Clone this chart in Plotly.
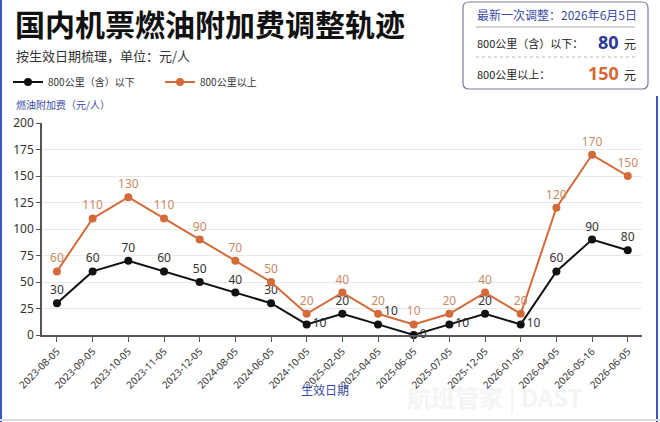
import plotly.graph_objects as go

# 数据
dates = ["2023-08-05", "2023-09-05", "2023-10-05", "2023-11-05", "2023-12-05",
         "2024-08-05", "2024-06-05", "2024-10-05", "2025-02-05", "2025-04-05",
         "2025-06-05", "2025-07-05", "2025-12-05", "2026-01-05", "2026-04-05",
         "2026-05-16", "2026-06-05"]
below_800 = [30, 60, 70, 60, 50, 40, 30, 10, 20, 10, 0, 10, 20, 10, 60, 90, 80]
above_800 = [60, 110, 130, 110, 90, 70, 50, 20, 40, 20, 10, 20, 40, 20, 120, 170, 150]

BLACK = "#111111"
ORANGE = "#d4693a"
BLUE = "#3b4aa8"
FONT = "Noto Sans CJK SC"

W, H = 660, 422
L, R, T, B = 42, 18, 123, 87
PW, PH = W - L - R, H - T - B


def px(x):
    return (x - L) / PW


def py(y):
    return (H - B - y) / PH


# 标签位置：低位的 10 放右侧，避免与橙线重叠
below_pos = []
for i, v in enumerate(below_800):
    if i in (7, 10, 11, 13):
        below_pos.append("middle right")
    elif i == 9:
        below_pos.append("top right")
    else:
        below_pos.append("top center")

fig = go.Figure()
fig.add_trace(go.Scatter(
    x=dates, y=below_800, name="800公里（含）以下", mode="lines+markers+text",
    line=dict(color=BLACK, width=2), marker=dict(color=BLACK, size=8),
    text=[str(v) for v in below_800], textposition=below_pos,
    textfont=dict(color="#333333", size=12, family="Noto Sans"), cliponaxis=False,
))
fig.add_trace(go.Scatter(
    x=dates, y=above_800, name="800公里以上", mode="lines+markers+text",
    line=dict(color=ORANGE, width=2), marker=dict(color=ORANGE, size=8),
    text=[str(v) for v in above_800], textposition="top center",
    textfont=dict(color="#c98a66", size=12, family="Noto Sans"), cliponaxis=False,
))

shapes = []
# 卡片边框
shapes.append(dict(type="line", xref="paper", yref="paper", x0=px(1), x1=px(1),
                   y0=py(0), y1=py(H), line=dict(color="#3d55c8", width=2)))
shapes.append(dict(type="line", xref="paper", yref="paper", x0=px(657), x1=px(657),
                   y0=py(96), y1=py(H), line=dict(color="#3d55c8", width=2)))
shapes.append(dict(type="line", xref="paper", yref="paper", x0=px(0), x1=px(W),
                   y0=py(420), y1=py(420), line=dict(color="#dddddd", width=2)))

# 信息框（圆角）
x0, x1, y0, y1, r = 463, 648, 2, 89, 6
path = (f"M {px(x0 + r)},{py(y0)} L {px(x1 - r)},{py(y0)} "
        f"Q {px(x1)},{py(y0)} {px(x1)},{py(y0 + r)} L {px(x1)},{py(y1 - r)} "
        f"Q {px(x1)},{py(y1)} {px(x1 - r)},{py(y1)} L {px(x0 + r)},{py(y1)} "
        f"Q {px(x0)},{py(y1)} {px(x0)},{py(y1 - r)} L {px(x0)},{py(y0 + r)} "
        f"Q {px(x0)},{py(y0)} {px(x0 + r)},{py(y0)} Z")
shapes.append(dict(type="path", xref="paper", yref="paper", path=path,
                   line=dict(color="#7a7f99", width=1.2), fillcolor="white"))
shapes.append(dict(type="line", xref="paper", yref="paper", x0=px(476), x1=px(635),
                   y0=py(27), y1=py(27), line=dict(color="#aaaaaa", width=1)))
shapes.append(dict(type="line", xref="paper", yref="paper", x0=px(476), x1=px(635),
                   y0=py(57), y1=py(57), line=dict(color="#bbbbbb", width=1, dash="dot")))


def note(x, y, text, size, color, xanchor="left", bold=False, family=FONT):
    if bold:
        text = f"<b>{text}</b>"
    return dict(xref="paper", yref="paper", x=px(x), y=py(y), text=text,
                showarrow=False, xanchor=xanchor, yanchor="middle",
                font=dict(size=size, color=color, family=family))


annotations = [
    note(13, 23, "国内机票燃油附加费调整轨迹", 30, "#111111", bold=True),
    note(14, 55, "按生效日期梳理，单位：元/人", 13, "#333333"),
    note(14, 105, "燃油附加费（元/人）", 10, BLUE),
    note(325, 389, "生效日期", 12, BLUE, xanchor="center"),
    note(475, 14, "最新一次调整：2026年6月5日", 12, BLUE),
    note(475, 43, "800公里（含）以下：", 11, "#222222"),
    note(621, 42, "80", 18, "#2b3a9a", xanchor="right", bold=True, family="Noto Sans"),
    note(630, 43, "元", 12, "#222222", xanchor="center"),
    note(475, 74, "800公里以上：", 11, "#222222"),
    note(621, 73, "150", 18, ORANGE, xanchor="right", bold=True, family="Noto Sans"),
    note(630, 74, "元", 12, "#222222", xanchor="center"),
    note(495, 396, "航班管家 | DAST", 24, "rgba(200,205,215,0.22)", xanchor="center", bold=True),
]

fig.update_layout(
    width=W, height=H,
    margin=dict(l=L, r=R, t=T, b=B, autoexpand=False),
    paper_bgcolor="white", plot_bgcolor="white",
    font=dict(family=FONT, color="#333333"),
    showlegend=True,
    legend=dict(orientation="h", xref="container", yref="container",
                x=8 / W, y=1 - 82 / H, xanchor="left", yanchor="middle",
                font=dict(size=10, color="#333333"), entrywidth=107,
                itemwidth=30, bgcolor="rgba(0,0,0,0)"),
    shapes=shapes,
    annotations=annotations,
)
fig.update_xaxes(
    type="category", range=[-0.42, 16.4], automargin=False,
    showline=True, linecolor="#555555", linewidth=1.5,
    ticks="outside", ticklen=5, tickcolor="#555555",
    tickangle=-45, tickfont=dict(size=10, color="#333333", family="Noto Sans"),
    showgrid=False,
)
fig.update_yaxes(
    range=[0, 200], dtick=25, automargin=False,
    showline=True, linecolor="#555555", linewidth=1.5,
    ticks="outside", ticklen=4, tickcolor="#555555",
    tickfont=dict(size=12, color="#333333", family="Noto Sans"),
    gridcolor="#e9e9e9", gridwidth=1, zeroline=False,
)

# 去掉页面默认边距，使图形贴齐窗口
fig.write_html("out.html", config={"displayModeBar": False},
               post_script="document.body.style.margin='0';")
